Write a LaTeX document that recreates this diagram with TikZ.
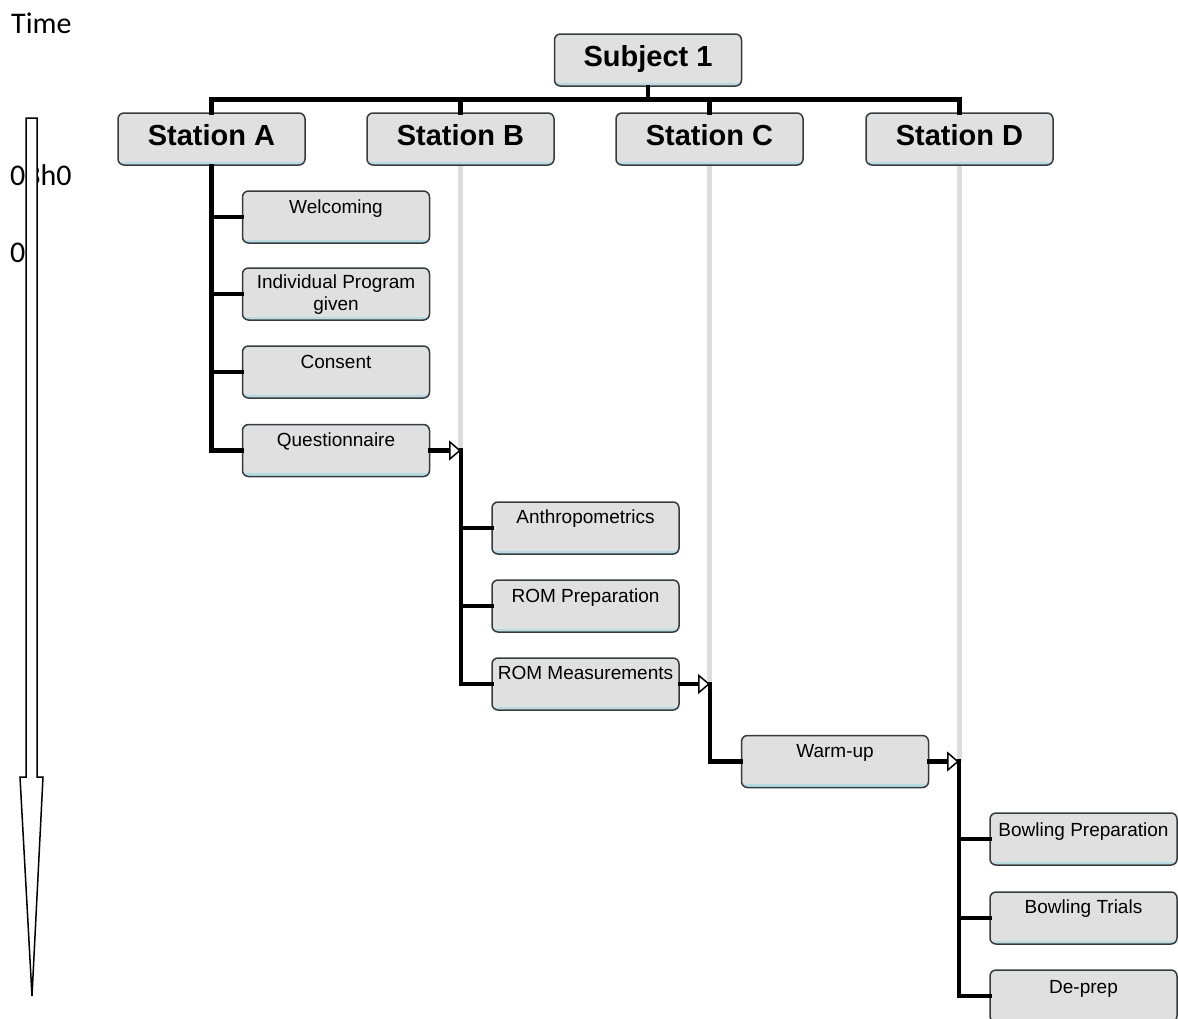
\documentclass[tikz,border=0pt]{standalone}
\usepackage{fontspec}
\setmainfont{Liberation Sans}
\newfontfamily\calfont{Carlito}
\usetikzlibrary{arrows.meta}
\definecolor{boxfill}{RGB}{224,224,224}
\definecolor{boxdraw}{RGB}{55,58,60}
\definecolor{boxcyan}{RGB}{176,222,228}
\definecolor{guide}{RGB}{221,221,221}
\begin{document}
\begin{tikzpicture}[x=1pt,y=-1pt,
  box/.style={draw=boxdraw, fill=boxfill, line width=1.5pt, rounded corners=6pt,
    minimum width=187pt, minimum height=52pt, inner sep=0pt,
    path picture={\draw[boxcyan, line width=2.5pt]
      ([yshift=2pt]path picture bounding box.south west) --
      ([yshift=2pt]path picture bounding box.south east);}},
  station/.style={box, font=\bfseries\fontsize{29}{29}\selectfont, text height=21pt, text depth=8pt},
  ctext/.style={font=\fontsize{19}{22}\selectfont, inner sep=0pt, anchor=base},
  ttext/.style={font=\calfont\fontsize{30}{30}\selectfont, inner sep=0pt, anchor=base west},
  conn/.style={line width=4.5pt, line cap=rect, line join=miter},
  guideline/.style={guide, line width=5pt},
  openarrow/.style={-{Triangle[length=12pt,width=20pt,fill=white,line width=1.5pt]}}
]
\clip (0,0) rectangle (1178,1018);

% time axis texts
\node[ttext] (time) at (11,33) {Time};
\node[ttext] (t1) at (10,185.5) {03h0};
\node[ttext] (t2) at (10,262) {0};
\draw[line width=1.5pt, fill=white] (26,118) -- (37,118) -- (37,777) -- (43,777)
  -- (32,996) -- (20,777) -- (26,777) -- cycle;

% connection points
\coordinate (bus) at (648,99.5);
\coordinate (tipB) at (461,450.5);
\coordinate (tipC) at (710,684);
\coordinate (tipD) at (959,761.5);

% header nodes
\node[station] (subj) at (648,60) {Subject 1};
\node[station] (sA) at (211.5,139) {Station A};
\node[station] (sB) at (460.5,139) {Station B};
\node[station] (sC) at (709.5,139) {Station C};
\node[station] (sD) at (959.5,139) {Station D};

% guide lines
\draw[guideline] (sB.south) -- (sB.south |- tipB);
\draw[guideline] (sC.south) -- (sC.south |- tipC);
\draw[guideline] (sD.south) -- (sD.south |- tipD);

% child boxes
\node[box] (welc) at (336,217) {};
\node[box] (indiv) at (336,294) {};
\node[box] (cons) at (336,372) {};
\node[box] (quest) at (336,450.5) {};
\node[box] (anthro) at (585.5,528) {};
\node[box] (romp) at (585.5,606) {};
\node[box] (romm) at (585.5,684) {};
\node[box] (warm) at (835,761.5) {};
\node[box] (bprep) at (1083.5,839) {};
\node[box] (btri) at (1083.5,918) {};
\node[box] (dep) at (1083.5,996) {};

\node[ctext] (welcT) at ([yshift=-23pt]welc.north) {Welcoming};
\node[ctext, anchor=center, align=center] (indivT) at ([yshift=-1pt]indiv.center) {Individual Program\\given};
\node[ctext] (consT) at ([yshift=-23pt]cons.north) {Consent};
\node[ctext] (questT) at ([yshift=-23pt]quest.north) {Questionnaire};
\node[ctext] (anthroT) at ([yshift=-22pt]anthro.north) {Anthropometrics};
\node[ctext] (rompT) at ([yshift=-23pt]romp.north) {ROM Preparation};
\node[ctext] (rommT) at ([yshift=-22pt]romm.north) {ROM Measurements};
\node[ctext] (warmT) at ([yshift=-23pt]warm.north) {Warm-up};
\node[ctext] (bprepT) at ([yshift=-24pt]bprep.north) {Bowling Preparation};
\node[ctext] (btriT) at ([yshift=-22pt]btri.north) {Bowling Trials};
\node[ctext] (depT) at ([yshift=-24pt]dep.north) {De-prep};

% tree connectors
\draw[conn] (subj.south) -- (bus);
\draw[conn] (sA.north) -- (sA.north |- bus) -- (sD.north |- bus) -- (sD.north);
\draw[conn] (sB.north) -- (sB.north |- bus);
\draw[conn] (sC.north) -- (sC.north |- bus);

% station A
\draw[conn] (sA.south) |- (quest.west);
\draw[conn] (sA.south |- welc.west) -- (welc.west);
\draw[conn] (sA.south |- indiv.west) -- (indiv.west);
\draw[conn] (sA.south |- cons.west) -- (cons.west);

% station B
\draw[conn] (tipB) |- (romm.west);
\draw[conn] (tipB |- anthro.west) -- (anthro.west);
\draw[conn] (tipB |- romp.west) -- (romp.west);

% station C
\draw[conn] (tipC) |- (warm.west);

% station D
\draw[conn] (tipD) |- (dep.west);
\draw[conn] (tipD |- bprep.west) -- (bprep.west);
\draw[conn] (tipD |- btri.west) -- (btri.west);

% hand-over arrows
\draw[conn, openarrow] (quest.east) -- (tipB);
\draw[conn, openarrow] (romm.east) -- (tipC);
\draw[conn, openarrow] (warm.east) -- (tipD);
\end{tikzpicture}
\end{document}
